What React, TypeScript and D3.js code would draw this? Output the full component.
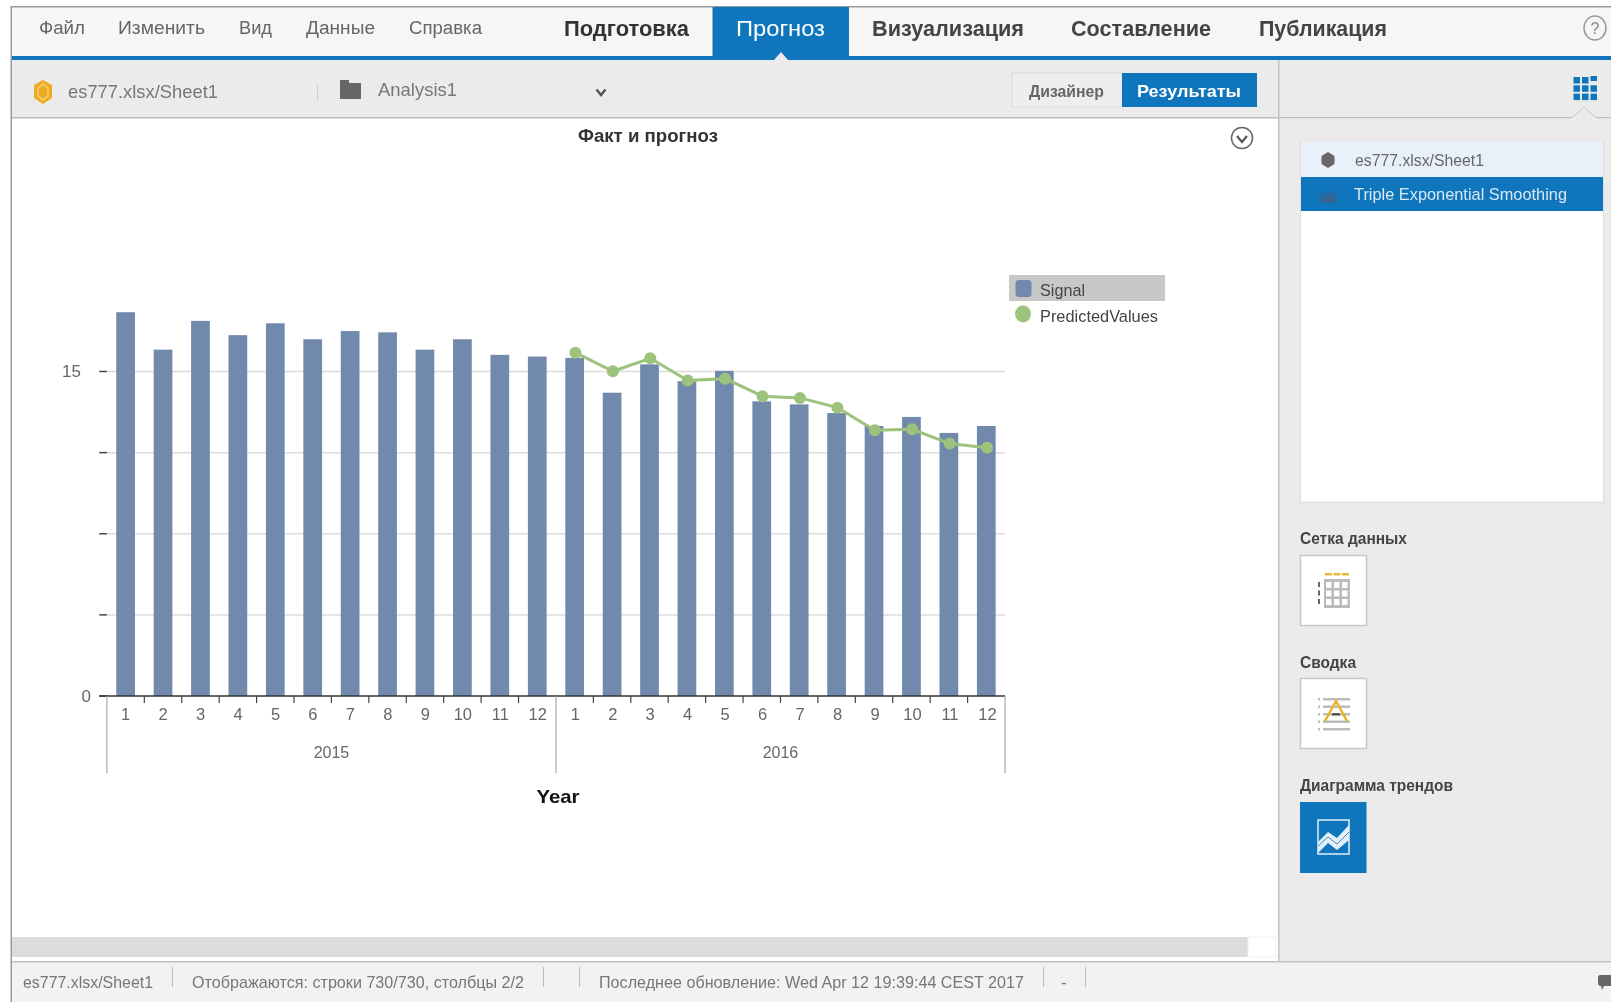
import React from "react";
import * as d3 from "d3";

const months = ["1","2","3","4","5","6","7","8","9","10","11","12"];
const years = ["2015","2016"];
const signal = [17.74,16.01,17.34,16.68,17.23,16.49,16.87,16.81,16.01,16.49,15.77,15.69,15.63,14.02,15.33,14.55,15.03,13.62,13.48,13.08,12.48,12.90,12.16,12.48];
const predicted = [15.87,15.01,15.61,14.58,14.67,13.86,13.78,13.33,12.28,12.33,11.67,11.48];
const predictedOffset = 12;
const yTickValues = [0,3.75,7.5,11.25,15];
const yTickLabels = ["0","","","","15"];
const seriesNames = ["Signal","PredictedValues"];
const axisTitle = "Year";
const chartTitle = "Факт и прогноз";

const BLUE = "#0f75bc";
const SANS = "'Liberation Sans', Arial, sans-serif";

function T({x,y,w,size=18,bold=false,fill="#555",anchor="start",children}:any){
  return <text x={x} y={y} fontFamily={SANS} fontSize={size} fontWeight={bold?700:400} fill={fill} textAnchor={anchor}
    textLength={w} lengthAdjust={w?"spacingAndGlyphs":undefined}>{children}</text>;
}

export default function App(){
  const keys = d3.range(signal.length);
  const left = 106.9, right = 1005;
  const x = d3.scaleBand<number>().domain(keys).range([left,right]).paddingInner(0.5).paddingOuter(0.25);
  const y = d3.scaleLinear().domain([0,15]).range([696,371.5]);
  const step = x.step();
  const cx = (i:number)=> (x(i) as number)+x.bandwidth()/2;
  const line = d3.line<number>().x((_,i)=>cx(i+predictedOffset)+0.8).y(d=>y(d));
  const yearW = (right-left)/years.length;
  return (
  <svg width={1611} height={1002} style={{position:"absolute",left:0,top:0,background:"#fff",display:"block",filter:"blur(0.35px)"}}>
    {/* top bar */}
    <rect x={11} y={6} width={1600} height={50} fill="#f6f6f6"/>
    <rect x={11} y={6} width={1600} height={1.5} fill="#999"/>
    <rect x={10.5} y={6} width={1.5} height={996} fill="#999"/>
    <rect x={712.5} y={7} width={136.5} height={49} fill={BLUE}/>
    <rect x={12} y={56} width={1599} height={4} fill={BLUE}/>
    <rect x={12} y={60} width={1599} height={57} fill="#ebebeb"/>
    <path d="M774,60 L781,52 L788,60 Z" fill="#ebebeb"/>
    <rect x={12} y={117} width={1266} height={1.5} fill="#bdbdbd"/>
    <rect x={1278} y={117} width={333} height={1.5} fill="#bdbdbd"/>
    <T x={39} y={34} w={46} fill="#666">Файл</T>
    <T x={118} y={34} w={87} fill="#666">Изменить</T>
    <T x={239} y={34} w={33} fill="#666">Вид</T>
    <T x={306} y={34} w={69} fill="#666">Данные</T>
    <T x={409} y={34} w={73} fill="#666">Справка</T>
    <T x={564} y={36} w={125} size={22} bold fill="#333">Подготовка</T>
    <T x={736} y={36} w={89} size={22} fill="#fff">Прогноз</T>
    <T x={872} y={36} w={152} size={22} bold fill="#444">Визуализация</T>
    <T x={1071} y={36} w={140} size={22} bold fill="#444">Составление</T>
    <T x={1259} y={36} w={128} size={22} bold fill="#444">Публикация</T>
    <ellipse cx={1595} cy={28} rx={11} ry={12} fill="none" stroke="#999" strokeWidth={1.5}/>
    <T x={1595} y={34} size={16} fill="#888" anchor="middle">?</T>
    {/* toolbar */}
    <path d="M43,80 L52,85 L52,98 L43,104 L34,98 L34,85 Z" fill="#eeaa22"/>
    <path d="M43,84 L48,88 L48,96 L43,100 L38,96 L38,88 Z" fill="none" stroke="#f8d27a" strokeWidth={1.5}/>
    <T x={68} y={98} w={150} size={19} fill="#777">es777.xlsx/Sheet1</T>
    <rect x={317} y={85} width={1} height={15} fill="#ccc"/>
    <path d="M340,80 L349,80 L349,83 L361,83 L361,99 L340,99 Z" fill="#666"/>
    <T x={378} y={96} w={79} size={19} fill="#777">Analysis1</T>
    <path d="M596.5,89.5 L601,95 L605.5,89.5" fill="none" stroke="#555" strokeWidth={2.5}/>
    <rect x={1012} y={73} width={110} height={34} fill="#eeeeee" stroke="#dcdcdc"/>
    <rect x={1122} y={73} width={135} height={34} fill={BLUE}/>
    <T x={1029} y={97} w={75} size={17} bold fill="#666">Дизайнер</T>
    <T x={1137} y={97} w={104} size={17} bold fill="#fff">Результаты</T>
    {/* right panel */}
    <rect x={1278.5} y={118.5} width={333} height={843} fill="#ebebeb"/>
    <rect x={1278} y={60} width={1.5} height={902} fill="#c4c4c4"/>
    <g fill={BLUE}>
      {d3.range(3).map(r=>d3.range(3).map(c=> r===0&&c===2 ? null :
        <rect key={`${r}${c}`} x={1573.5+c*8.5} y={77+r*8.3} width={6.5} height={6.5}/>))}
      <rect x={1590.5} y={76} width={6.5} height={5}/>
    </g>
    <path d="M1572,118 L1584,107 L1596,118" fill="#ebebeb" stroke="#c4c4c4"/>
    <rect x={1572} y={117.5} width={24} height={2} fill="#ebebeb"/>
    <rect x={1300.5} y={141} width={303} height={361} fill="#fff" stroke="#ddd"/>
    <rect x={1301} y={142} width={302} height={35} fill="#e8f0f9"/>
    <rect x={1301} y={177} width={302} height={34} fill={BLUE}/>
    <path d="M1328,152 L1334.5,156 L1334.5,164 L1328,168 L1321.5,164 L1321.5,156 Z" fill="#666"/>
    <path d="M1321,203 L1321,190 L1325,198 L1329,190 L1333,198 L1336,190 L1336,203 Z" fill="#35648e"/>
    <T x={1355} y={166} w={129} size={17} fill="#666">es777.xlsx/Sheet1</T>
    <T x={1354} y={200} w={213} size={17} fill="#d8e8f4">Triple Exponential Smoothing</T>
    <T x={1300} y={544} w={107} size={17} bold fill="#444">Сетка данных</T>
    <rect x={1300.5} y={555.5} width={66} height={70} fill="#fff" stroke="#c8c8c8" strokeWidth={1.5}/>
    <g fill="#e8b93c">{[0,1,2].map(i=><rect key={i} x={1325+i*8.5} y={573} width={7} height={2.5}/>)}</g>
    <rect x={1324} y={579} width={26} height={29} fill="#bbb"/>
    <g fill="#fff">{d3.range(3).map(r=>d3.range(3).map(c=><rect key={`${r}${c}`} x={1326+c*8} y={582+r*8.5} width={5.5} height={6}/>))}</g>
    <g fill="#666">{[0,1,2].map(i=><rect key={i} x={1318} y={582+i*8.5} width={2} height={5}/>)}</g>
    <T x={1300} y={668} w={56} size={17} bold fill="#444">Сводка</T>
    <rect x={1300.5} y={678.5} width={66} height={70} fill="#fff" stroke="#c8c8c8" strokeWidth={1.5}/>
    <g fill="#bbb">{[0,1,2,3,4].map(i=><rect key={i} x={1323} y={698+i*7.5} width={27} height={2.5}/>)}</g>
    <g fill="#bbb">{[0,1,2,3,4].map(i=><rect key={i} x={1318} y={698+i*7.5} width={2} height={2.5}/>)}</g>
    <path d="M1325,721 L1336,701 L1347,721" fill="none" stroke="#e8b326" strokeWidth={2.5}/>
    <rect x={1332} y={713} width={8} height={2.5} fill="#555"/>
    <T x={1300} y={791} w={153} size={17} bold fill="#444">Диаграмма трендов</T>
    <rect x={1300} y={802} width={66.5} height={71} fill={BLUE}/>
    <rect x={1318} y={820} width={31} height={34} fill="none" stroke="#e4f0f8" strokeWidth={1.5}/>
    <path d="M1318,842 L1328,832 L1337,838 L1349,825 L1349,840 L1337,850 L1328,843 L1318,853 Z" fill="#e4f0f8"/>
    <path d="M1318,846 L1328,837 L1337,844 L1349,832" fill="none" stroke={BLUE} strokeWidth={0.8}/>

    {/* chart */}
    <T x={648} y={142} w={140} size={18} bold fill="#333" anchor="middle">{chartTitle}</T>
    <circle cx={1242} cy={138} r={10.5} fill="#fff" stroke="#666" strokeWidth={1.5}/>
    <path d="M1237,136 L1242,142 L1247,136" fill="none" stroke="#555" strokeWidth={2.2}/>

    {yTickValues.map((v,i)=>(
      <g key={v}>
        {v>0 && <line x1={left} x2={right} y1={y(v)} y2={y(v)} stroke="#dcdcdc" strokeWidth={1.5}/>}
        <line x1={99.3} x2={left} y1={y(v)} y2={y(v)} stroke="#444" strokeWidth={1.5}/>
        {yTickLabels[i] && <T x={v===0?91:81} y={y(v)+(v===0?6:5)} size={17} fill="#666" anchor="end">{yTickLabels[i]}</T>}
      </g>
    ))}
    {signal.map((v,i)=>(
      <rect key={i} x={x(i)} y={y(v)} width={x.bandwidth()} height={y(0)-y(v)} fill="#7089ac"/>
    ))}
    <line x1={99.3} x2={right} y1={y(0)} y2={y(0)} stroke="#333" strokeWidth={1.5}/>
    {d3.range(signal.length+1).map(i=>(
      i%12!==0 && <line key={i} x1={left+i*step} x2={left+i*step} y1={696} y2={703} stroke="#444" strokeWidth={1.2}/>
    ))}
    {d3.range(years.length+1).map(i=>(
      <line key={i} x1={left+i*yearW} x2={left+i*yearW} y1={696} y2={773} stroke="#aaa" strokeWidth={1.2}/>
    ))}
    {signal.map((_,i)=>(
      <T key={i} x={cx(i)+i*0.05} y={720} size={16.5} fill="#666" anchor="middle">{months[i%12]}</T>
    ))}
    {years.map((yr,i)=>(
      <T key={yr} x={left+(i+0.5)*yearW} y={758} size={16} fill="#666" anchor="middle">{yr}</T>
    ))}
    <T x={558} y={803} w={43} size={19} bold fill="#111" anchor="middle">{axisTitle}</T>

    <path d={line(predicted) as string} fill="none" stroke="#9dc27c" strokeWidth={3}/>
    {predicted.map((v,i)=>(
      <circle key={i} cx={cx(i+predictedOffset)+0.8} cy={y(v)} r={6} fill="#9dc27c"/>
    ))}

    {/* legend */}
    <rect x={1009} y={275} width={156} height={26} fill="#c8c8c8"/>
    <rect x={1015.5} y={280} width={16} height={17} rx={3.5} fill="#7089ac"/>
    <T x={1040} y={296} w={45} size={17} fill="#444">{seriesNames[0]}</T>
    <ellipse cx={1023} cy={314} rx={8} ry={8.5} fill="#9dc27c"/>
    <T x={1040} y={322} w={118} size={17} fill="#444">{seriesNames[1]}</T>

    {/* scrollbar + status */}
    <rect x={12} y={937} width={1236} height={20} fill="#dcdcdc"/>
    <rect x={1248} y={937} width={28} height={20} fill="#fff" stroke="#f0f0f0"/>
    <rect x={12} y={961} width={1599} height={41} fill="#f2f2f2"/>
    <rect x={12} y={961} width={1599} height={1.5} fill="#c0c0c0"/>
    <T x={23} y={988} w={130} size={17} fill="#777">es777.xlsx/Sheet1</T>
    <T x={192} y={988} w={332} size={17} fill="#777">Отображаются: строки 730/730, столбцы 2/2</T>
    <T x={599} y={988} w={425} size={17} fill="#777">Последнее обновление: Wed Apr 12 19:39:44 CEST 2017</T>
    <T x={1061} y={988} size={17} fill="#777">-</T>
    {[172,543,579,1043,1085].map(sx=><rect key={sx} x={sx} y={967} width={1} height={20} fill="#bbb"/>)}
    <path d="M1600,975 L1611,975 L1611,986 L1604,986 L1602,990 L1601,986 Q1598,986 1598,983 L1598,978 Q1598,975 1600,975 Z" fill="#666"/>
  </svg>
  );
}
